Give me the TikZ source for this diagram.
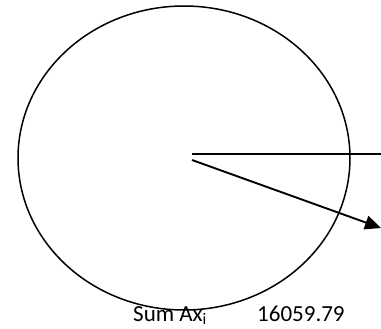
\documentclass[tikz,border=0pt]{standalone}
\usepackage{fontspec}
\setmainfont{Carlito}
\usetikzlibrary{shapes.geometric,arrows.meta}

\begin{document}
\begin{tikzpicture}[
  x=1pt, y=-1pt,
  ring/.style={draw, ellipse, line width=1.5pt, minimum width=332pt, minimum height=304pt, inner sep=0pt},
  ray/.style={line width=1.9pt},
  arr/.style={-{Triangle[length=16pt, width=14pt]}, line width=1.9pt},
  lbl/.style={font=\fontsize{23}{26}\selectfont, anchor=base west, inner sep=0pt}
]
  \useasboundingbox (0,0) rectangle (381,329);

  \node[ring] (disc) at (184,158) {};

  \coordinate (ctr1) at (192,154);
  \coordinate (ctr2) at (192,160);
  \coordinate (out1) at (381,154);
  \coordinate (out2) at (381,228);

  \draw[ray] (ctr1) -- (out1);
  \draw[arr] (ctr2) -- (out2);

  \node[lbl] (sum) at (133,321) {Sum Ax\textsubscript{i}};
  \node[lbl] (val) at (257,321) {16059.79};
\end{tikzpicture}
\end{document}
